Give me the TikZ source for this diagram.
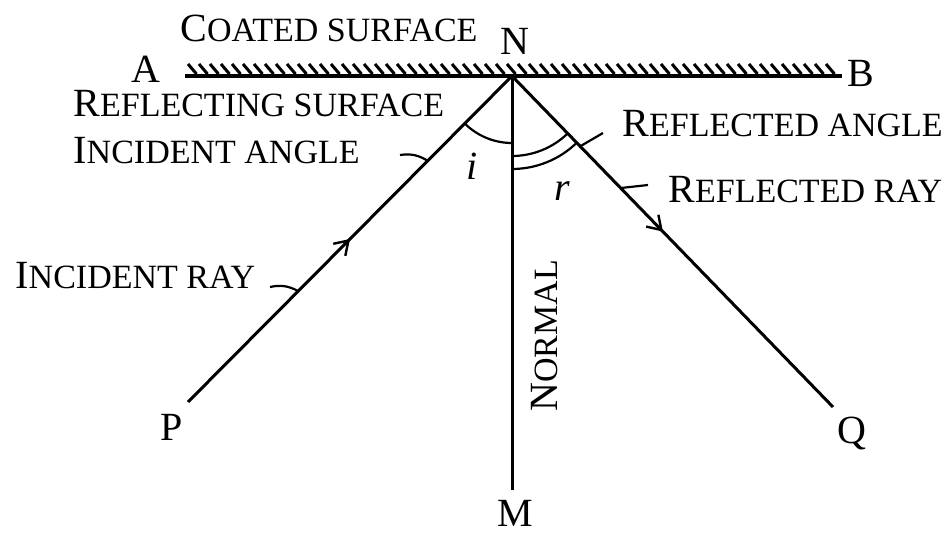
\documentclass[tikz,border=0pt]{standalone}
\usepackage{fontspec}
\setmainfont{Liberation Serif}
\usetikzlibrary{arrows.meta,decorations.markings}
\newcommand\smallcapfont{\fontsize{17}{20}\selectfont}
\newcommand\lowcaps[2]{#1{\smallcapfont #2}}

\begin{document}
\begin{tikzpicture}[x=0.5pt,y=0.5pt,
  lbl/.style={font=\fontsize{20}{24}\selectfont,inner sep=0pt,anchor=base west},
  pt/.style={font=\fontsize{20}{24}\selectfont,inner sep=0pt,anchor=base},
  ray/.style={line width=1.5pt},
  leader/.style={line width=1.1pt},
  hatchmark/.style={line width=1.5pt},
  flow/.style={postaction={decorate},decoration={markings,
      mark=at position #1 with {\arrow{Straight Barb[length=6.5pt,width=8.5pt,line width=1.2pt]}}}},
]
\useasboundingbox (0,0) rectangle (949,-535);

% points of the figure
\coordinate (N) at (512,-76);
\coordinate (Aend) at (185,-76);
\coordinate (Bend) at (842,-76);
\coordinate (Mend) at (512,-490);
\coordinate (Pend) at (188,-402);
\coordinate (Qend) at (833,-407);

% mirror with its coating
\foreach \x in {188,199,...,832}
  \draw[hatchmark] (\x,-64) -- ++(8.5,-10);
\draw[line width=1.9pt] (Aend) -- (Bend);

% normal and rays
\draw[ray] (N) -- (Mend);
\draw[ray,flow=0.5] (Pend) -- (N);
\draw[ray,flow=0.47] (N) -- (Qend);

% angles
\draw[leader] (N) ++(225.2:67) arc[start angle=225.2,end angle=270,radius=67];
\draw[leader] (N) ++(270:80) arc[start angle=270,end angle=314.1,radius=80];
\draw[leader] (N) ++(270:93) arc[start angle=270,end angle=314.1,radius=93];

% labels
\node[lbl] (coated) at (180,-42) {\lowcaps{C}{OATED SURFACE}};
\node[lbl] (reflsurf) at (73,-117) {\lowcaps{R}{EFLECTING SURFACE}};
\node[lbl] (incang) at (73,-163) {\lowcaps{I}{NCIDENT ANGLE}};
\node[lbl] (incray) at (15,-288) {\lowcaps{I}{NCIDENT RAY}};
\node[lbl] (reflang) at (622,-137) {\lowcaps{R}{EFLECTED ANGLE}};
\node[lbl] (reflray) at (668,-203) {\lowcaps{R}{EFLECTED RAY}};
\node[lbl,rotate=90] (normal) at (557,-412) {\lowcaps{N}{ORMAL}};

\node[pt] (lA) at (146,-83) {A};
\node[pt] (lB) at (861,-87) {B};
\node[pt] (lN) at (515,-55) {N};
\node[pt] (lP) at (172,-440) {P};
\node[pt] (lQ) at (852,-443) {Q};
\node[pt] (lM) at (515,-526) {M};
\node[pt] (li) at (472,-180) {\textit{i}};
\node[pt] (lr) at (562,-200) {\textit{r}};

% leader lines
\coordinate (iaFrom) at (400,-155);
\coordinate (iaTo) at (428,-161);
\coordinate (irFrom) at (270,-287);
\coordinate (irTo) at (298,-291);
\coordinate (raFrom) at (603,-133);
\coordinate (raTo) at (579,-147);
\coordinate (rrFrom) at (648,-185);
\coordinate (rrTo) at (621,-188);
\draw[leader] (iaFrom) to[bend left=20] (iaTo);
\draw[leader] (irFrom) to[bend left=20] (irTo);
\draw[leader] (raFrom) -- (raTo);
\draw[leader] (rrFrom) -- (rrTo);
\end{tikzpicture}
\end{document}
